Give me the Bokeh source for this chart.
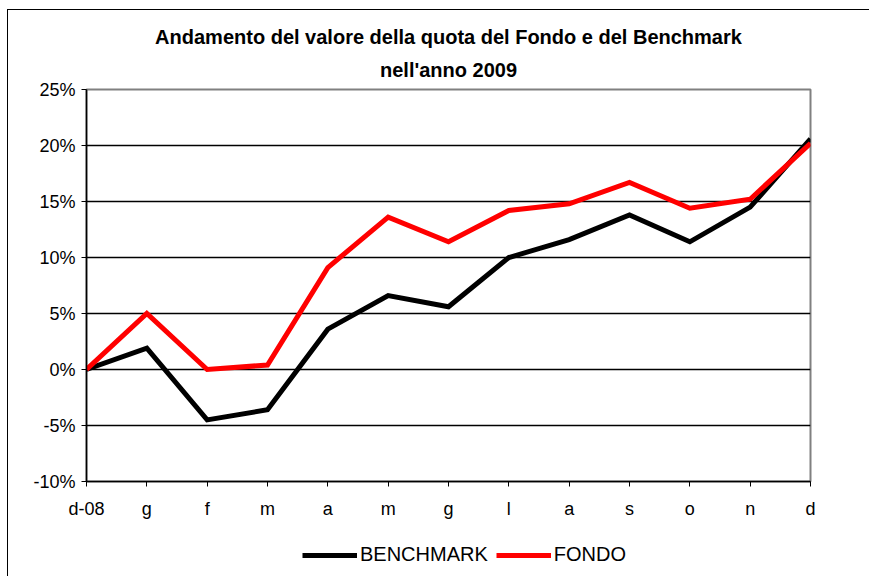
from bokeh.plotting import figure
from bokeh.layouts import column
from bokeh.models import Range1d, FixedTicker, Legend, LegendItem, Title
from bokeh.embed import file_html
from bokeh.resources import INLINE

months = ["d-08", "g", "f", "m", "a", "m", "g", "l", "a", "s", "o", "n", "d"]
benchmark = [0.0, 1.9, -4.5, -3.6, 3.6, 6.6, 5.6, 10.0, 11.6, 13.8, 11.4, 14.5, 20.6]
fondo = [0.0, 5.0, 0.0, 0.4, 9.1, 13.6, 11.4, 14.2, 14.8, 16.7, 14.4, 15.2, 20.2]
y_ticks = [-10, -5, 0, 5, 10, 15, 20, 25]
y_tick_labels = ["-10%", "-5%", "0%", "5%", "10%", "15%", "20%", "25%"]
title_line1 = "Andamento del valore della quota del Fondo e del Benchmark"
title_line2 = "nell'anno 2009"
series_names = ["BENCHMARK", "FONDO"]
colors = ["black", "#ff0000"]

FONT = "Liberation Sans"
x = list(range(len(months)))
FRAME_BG = ("linear-gradient(black,black) 7px 9px / 1px 100% no-repeat, "
            "linear-gradient(black,black) 7px 9px / 100% 1px no-repeat, white")

p = figure(width=869, height=530, output_backend="svg", toolbar_location=None,
           x_range=Range1d(0, len(months) - 1), y_range=Range1d(y_ticks[0], y_ticks[-1]),
           min_border_left=86, min_border_right=59, min_border_top=89, min_border_bottom=49)
p.background_fill_color = "white"
p.border_fill_color = None
p.styles = {"background": FRAME_BG}
p.outline_line_color = "#808080"
p.outline_line_width = 2

p.title.visible = False
p.add_layout(Title(text=title_line2, align="center", text_font=FONT, text_font_style="bold",
                   text_font_size="20px", text_color="black", standoff=18, offset=-6), "above")
p.add_layout(Title(text=title_line1, align="center", text_font=FONT, text_font_style="bold",
                   text_font_size="20px", text_color="black", standoff=0, offset=-6), "above")

p.xgrid.visible = False
p.ygrid.ticker = FixedTicker(ticks=y_ticks[1:-1])
p.ygrid.grid_line_color = "black"
p.ygrid.grid_line_width = 1.5

p.yaxis.ticker = FixedTicker(ticks=y_ticks)
p.yaxis.major_label_overrides = {t: l for t, l in zip(y_ticks, y_tick_labels)}
p.xaxis.ticker = FixedTicker(ticks=x)
p.xaxis.major_label_overrides = {i: m for i, m in zip(x, months)}
for ax in (p.xaxis, p.yaxis):
    ax.axis_line_color = "black"
    ax.axis_line_width = 1.5
    ax.major_tick_line_color = "black"
    ax.major_tick_line_width = 1
    ax.major_tick_out = 5
    ax.major_tick_in = 0
    ax.minor_tick_line_color = None
    ax.major_label_text_font = FONT
    ax.major_label_text_font_size = "18px"
    ax.major_label_text_color = "black"
p.yaxis.major_label_standoff = 6
p.xaxis.major_label_standoff = 12

p.line(x, benchmark, line_color=colors[0], line_width=5, line_join="miter")
p.line(x, fondo, line_color=colors[1], line_width=5, line_join="miter")

# legend strip below the chart (series drawn out of view, only their legend glyphs show)
lg = figure(width=869, height=46, output_backend="svg", toolbar_location=None,
            x_range=Range1d(0, len(months) - 1), y_range=Range1d(1000, 1001),
            x_axis_location=None, y_axis_location=None,
            min_border_left=0, min_border_right=0, min_border_top=0, min_border_bottom=0)
lg.grid.visible = False
lg.outline_line_color = None
lg.border_fill_color = None
lg.background_fill_color = None
lg.styles = {"background": "linear-gradient(black,black) 7px 0px / 1px 100% no-repeat, white"}
lr_b = lg.line(x, benchmark, line_color=colors[0], line_width=5)
lr_f = lg.line(x, fondo, line_color=colors[1], line_width=5)
legend = Legend(items=[LegendItem(label=series_names[0], renderers=[lr_b]),
                       LegendItem(label=series_names[1], renderers=[lr_f])],
                orientation="horizontal", location=(216, 10),
                glyph_width=55, glyph_height=14, label_standoff=3, spacing=8,
                padding=0, margin=0, border_line_alpha=0, background_fill_alpha=0,
                label_text_font=FONT, label_text_font_size="20px", label_text_color="black")
lg.add_layout(legend, "center")

layout = column(p, lg, spacing=0)
open("out.html", "w").write(file_html(layout, INLINE))
